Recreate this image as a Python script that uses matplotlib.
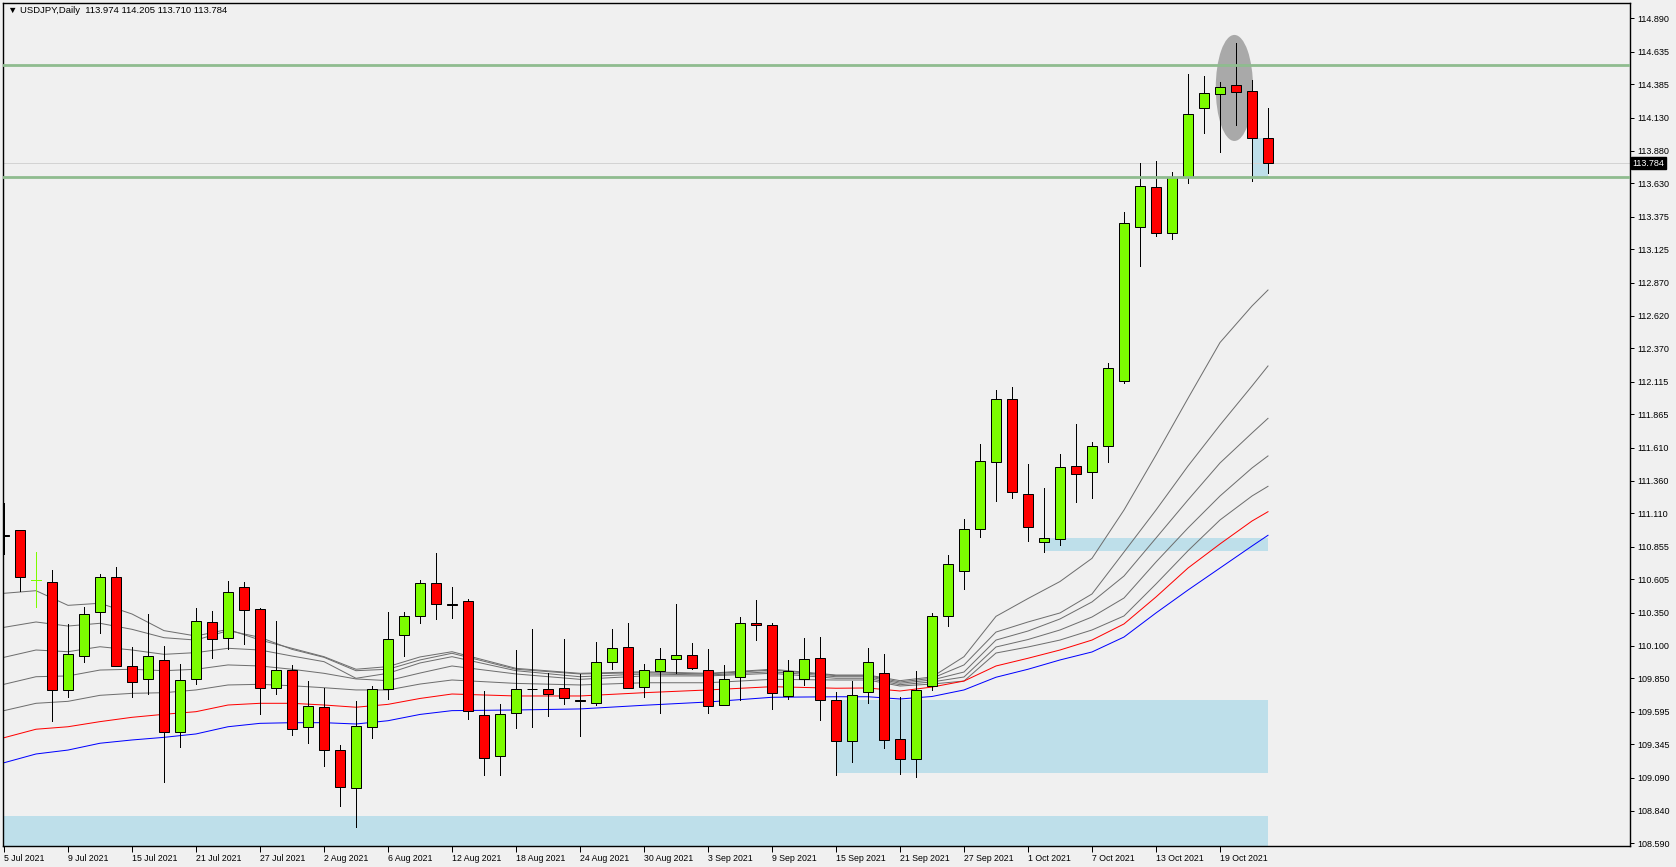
import matplotlib
matplotlib.use('Agg')
import matplotlib.pyplot as plt
import matplotlib.transforms as mtransforms
from matplotlib.patches import Rectangle, Ellipse

matplotlib.rcParams.update({'font.family': ['Liberation Sans', 'DejaVu Sans'], 'font.size': 6.5})

# daily USDJPY candles, 5 Jul 2021 .. 22 Oct 2021 (one entry per bar)
opens = [110.945, 110.980, 110.598, 110.583, 109.758, 110.022, 110.354, 110.621, 109.942, 109.842,
         109.987, 109.442, 109.847, 110.278, 110.155, 110.545, 110.377, 109.774, 109.911, 109.476,
         109.628, 109.300, 109.010, 109.476, 109.766, 110.178, 110.323, 110.575, 110.415, 110.438,
         109.567, 109.254, 109.583, 109.767, 109.766, 109.774, 109.682, 109.659, 109.972, 110.087,
         109.781, 109.903, 109.995, 110.025, 109.911, 109.644, 109.858, 110.270, 110.255, 109.712,
         109.842, 110.003, 109.682, 109.369, 109.743, 109.888, 109.384, 109.230, 109.793, 110.323,
         110.667, 110.988, 111.499, 111.981, 111.255, 110.888, 110.911, 111.469, 111.423, 111.622,
         112.118, 113.294, 113.599, 113.248, 113.678, 114.203, 114.310, 114.378, 114.333, 113.974]
highs = [111.186, 110.985, 110.812, 110.677, 110.265, 110.397, 110.646, 110.700, 110.089, 110.341,
         110.097, 109.959, 110.387, 110.364, 110.593, 110.585, 110.384, 110.288, 109.951, 109.829,
         109.778, 109.341, 109.676, 109.791, 110.354, 110.354, 110.601, 110.804, 110.545, 110.453,
         109.751, 109.654, 110.066, 110.226, 109.888, 110.150, 109.881, 110.127, 110.226, 110.272,
         109.959, 110.081, 110.417, 110.117, 110.074, 109.951, 110.316, 110.448, 110.270, 109.990,
         110.158, 110.165, 109.743, 109.827, 110.081, 110.036, 109.709, 109.906, 110.346, 110.789,
         111.064, 111.637, 112.049, 112.072, 111.484, 111.301, 111.560, 111.790, 111.652, 112.255,
         113.411, 113.785, 113.800, 113.714, 114.465, 114.449, 114.404, 114.704, 114.419, 114.205]
lows = [110.797, 110.517, 110.397, 109.526, 109.709, 109.977, 110.198, 109.942, 109.709, 109.732,
        109.060, 109.328, 109.804, 110.007, 110.074, 110.114, 109.580, 109.732, 109.419, 109.358,
        109.182, 108.877, 108.717, 109.396, 109.694, 110.022, 110.274, 110.305, 110.313, 109.541,
        109.114, 109.114, 109.473, 109.480, 109.564, 109.651, 109.412, 109.644, 109.923, 109.774,
        109.705, 109.583, 109.888, 109.919, 109.587, 109.644, 109.684, 110.140, 109.618, 109.694,
        109.801, 109.529, 109.114, 109.213, 109.664, 109.320, 109.120, 109.100, 109.758, 110.252,
        110.534, 110.931, 111.206, 111.229, 110.901, 110.817, 110.870, 111.198, 111.229, 111.504,
        112.107, 113.001, 113.230, 113.207, 113.635, 114.016, 113.871, 114.077, 113.650, 113.710]
closes = [110.939, 110.621, 110.598, 109.758, 110.033, 110.339, 110.621, 109.942, 109.819, 110.018,
          109.442, 109.835, 110.285, 110.152, 110.507, 110.369, 109.774, 109.911, 109.460, 109.636,
          109.300, 109.018, 109.483, 109.766, 110.148, 110.323, 110.575, 110.415, 110.407, 109.598,
          109.239, 109.575, 109.766, 109.766, 109.728, 109.697, 109.679, 109.972, 110.079, 109.774,
          109.911, 109.995, 110.025, 109.926, 109.636, 109.842, 110.270, 110.255, 109.735, 109.903,
          109.995, 109.682, 109.369, 109.720, 109.972, 109.379, 109.230, 109.758, 110.323, 110.721,
          110.988, 111.507, 111.981, 111.270, 111.003, 110.919, 111.461, 111.408, 111.622, 112.217,
          113.324, 113.607, 113.248, 113.678, 114.157, 114.317, 114.363, 114.325, 113.974, 113.784]

# moving averages at these bars
ma_bars = [0, 2, 4, 6, 8, 10, 12, 14, 16, 18, 20, 22, 24, 26, 28, 32, 36, 40, 44, 48,
           52, 54, 56, 58, 60, 62, 64, 66, 68, 70, 72, 74, 76, 78, 79]
ma_a = [110.499, 110.519, 110.407, 110.423, 110.341, 110.214, 110.173, 110.224, 110.142, 110.079,
        110.015, 109.919, 109.939, 110.013, 110.053, 109.926, 109.888, 109.900, 109.888, 109.919,
        109.875, 109.875, 109.832, 109.860, 110.015, 110.323, 110.459, 110.589, 110.766, 111.135,
        111.555, 111.988, 112.414, 112.693, 112.815]
ma_b = [110.239, 110.280, 110.249, 110.270, 110.224, 110.160, 110.142, 110.214, 110.163, 110.071,
        110.010, 109.908, 109.919, 109.990, 110.041, 109.919, 109.883, 109.893, 109.883, 109.913,
        109.870, 109.870, 109.822, 109.850, 109.952, 110.203, 110.280, 110.349, 110.494, 110.814,
        111.135, 111.471, 111.784, 112.082, 112.235]
ma_c = [110.010, 110.066, 110.053, 110.091, 110.066, 110.033, 110.046, 110.079, 110.066, 110.020,
        109.977, 109.850, 109.888, 109.967, 110.015, 109.908, 109.862, 109.883, 109.875, 109.900,
        109.862, 109.862, 109.812, 109.837, 109.898, 110.142, 110.211, 110.303, 110.433, 110.631,
        110.921, 111.212, 111.494, 111.723, 111.835]
ma_d = [109.804, 109.862, 109.868, 109.913, 109.919, 109.908, 109.919, 109.952, 109.944, 109.919,
        109.888, 109.845, 109.832, 109.890, 109.944, 109.883, 109.842, 109.868, 109.868, 109.888,
        109.850, 109.850, 109.801, 109.822, 109.860, 110.089, 110.146, 110.219, 110.318, 110.463,
        110.738, 110.998, 111.242, 111.456, 111.548]
ma_e = [109.603, 109.659, 109.674, 109.720, 109.735, 109.740, 109.761, 109.799, 109.804, 109.793,
        109.778, 109.761, 109.761, 109.806, 109.837, 109.811, 109.799, 109.816, 109.816, 109.842,
        109.837, 109.837, 109.791, 109.806, 109.829, 110.043, 110.089, 110.142, 110.219, 110.326,
        110.570, 110.824, 111.059, 111.242, 111.316]
ma_red = [109.396, 109.461, 109.480, 109.519, 109.552, 109.575, 109.595, 109.646, 109.659, 109.659,
          109.646, 109.629, 109.651, 109.696, 109.730, 109.715, 109.715, 109.740, 109.761, 109.786,
          109.774, 109.776, 109.753, 109.783, 109.829, 109.944, 110.003, 110.066, 110.142, 110.265,
          110.471, 110.692, 110.876, 111.051, 111.122]
ma_blue = [109.205, 109.272, 109.302, 109.354, 109.379, 109.399, 109.425, 109.480, 109.506, 109.511,
           109.511, 109.501, 109.526, 109.574, 109.603, 109.608, 109.616, 109.644, 109.669, 109.705,
           109.709, 109.709, 109.692, 109.711, 109.761, 109.858, 109.919, 109.990, 110.051, 110.165,
           110.349, 110.524, 110.692, 110.860, 110.942]

# horizontal levels and boxes drawn on the chart
levels = [114.531, 113.676]
zone_start = [-5, 52, 65, 78]
zone_end = [79, 79, 79, 79]
zone_low = [108.40, 109.13, 110.824, 113.660]
zone_high = [108.798, 109.684, 110.924, 113.974]
last_price = 113.784

price_ticks = [114.890, 114.635, 114.385, 114.130, 113.880, 113.630, 113.375, 113.125, 112.870,
               112.620, 112.370, 112.115, 111.865, 111.610, 111.360, 111.110, 110.855, 110.605,
               110.350, 110.100, 109.850, 109.595, 109.345, 109.090, 108.840, 108.590]
date_bars = list(range(0, 80, 4))
date_labels = ['5 Jul 2021', '9 Jul 2021', '15 Jul 2021', '21 Jul 2021', '27 Jul 2021',
               '2 Aug 2021', '6 Aug 2021', '12 Aug 2021', '18 Aug 2021', '24 Aug 2021',
               '30 Aug 2021', '3 Sep 2021', '9 Sep 2021', '15 Sep 2021', '21 Sep 2021',
               '27 Sep 2021', '1 Oct 2021', '7 Oct 2021', '13 Oct 2021', '19 Oct 2021']

bg = '#F0F0F0'
bull = '#7CFC00'
bear = '#FF0000'
zone_col = '#BEDFEA'
px = 0.72

fig = plt.figure(figsize=(16.76, 8.67), dpi=100, facecolor=bg)
ax = fig.add_axes([0.00161, 0.02422, 0.97094, 0.97267], facecolor=bg)

for s, e, lo, hi in zip(zone_start, zone_end, zone_low, zone_high):
    ax.add_patch(Rectangle((s, lo), e - s, hi - lo, fc=zone_col, ec='none', zorder=1))

ax.add_patch(Ellipse((76.9, 114.358), 2.33, 0.81, fc='#A9A9A9', ec='none', zorder=1))

for ma in [ma_a, ma_b, ma_c, ma_d, ma_e]:
    ax.plot(ma_bars, ma, color='#6E6E6E', lw=px, zorder=2)
ax.plot(ma_bars, ma_red, color='#FF0000', lw=px, zorder=2)
ax.plot(ma_bars, ma_blue, color='#0000FF', lw=px, zorder=2)

w = 0.625
for i, (o, h, l, c) in enumerate(zip(opens, highs, lows, closes)):
    if o == c:
        ax.plot([i, i], [l, h], color=bull, lw=px, zorder=3)
        ax.plot([i - w / 2, i + w / 2], [o, o], color=bull, lw=px, zorder=3)
        continue
    ax.plot([i, i], [l, h], color='black', lw=px, zorder=3)
    ax.add_patch(Rectangle((i - w / 2, min(o, c)), w, abs(c - o),
                           fc=bull if c > o else bear, ec='black', lw=px, zorder=4))

ax.axhline(last_price, color='#D3D3D3', lw=px, zorder=2)
for lv in levels:
    ax.axhline(lv, color='#8FBC8F', lw=2.0, zorder=5)

ax.set_xlim(-0.081, 101.625)
ax.set_ylim(108.5693, 115.0091)

ax.yaxis.tick_right()
ax.set_yticks(price_ticks)
ax.set_yticklabels(['%.3f' % t for t in price_ticks])
ax.tick_params(axis='y', length=3, width=px, pad=2, labelsize=6.5)
ax.set_xticks(date_bars)
ax.set_xticklabels(date_labels)
for lbl in ax.get_xticklabels():
    lbl.set_horizontalalignment('left')
ax.tick_params(axis='x', length=4, width=px, pad=2, labelsize=6.3)
for sp in ax.spines.values():
    sp.set_linewidth(1.0)
    sp.set_color('black')

trans = mtransforms.blended_transform_factory(ax.transAxes, ax.transData)
ax.text(1.0015, last_price, '%.3f' % last_price, transform=trans, color='white',
        va='center', ha='left', fontsize=6.5,
        bbox=dict(boxstyle='square,pad=0.15', fc='black', ec='black'))

ax.text(0.003, 0.9905, '\u25bc USDJPY,Daily  %.3f %.3f %.3f %.3f' % (opens[-1], highs[-1], lows[-1], closes[-1]),
        transform=ax.transAxes, fontsize=6.8, va='center', ha='left', color='black')

fig.savefig('out.png', dpi=100, facecolor=bg)
